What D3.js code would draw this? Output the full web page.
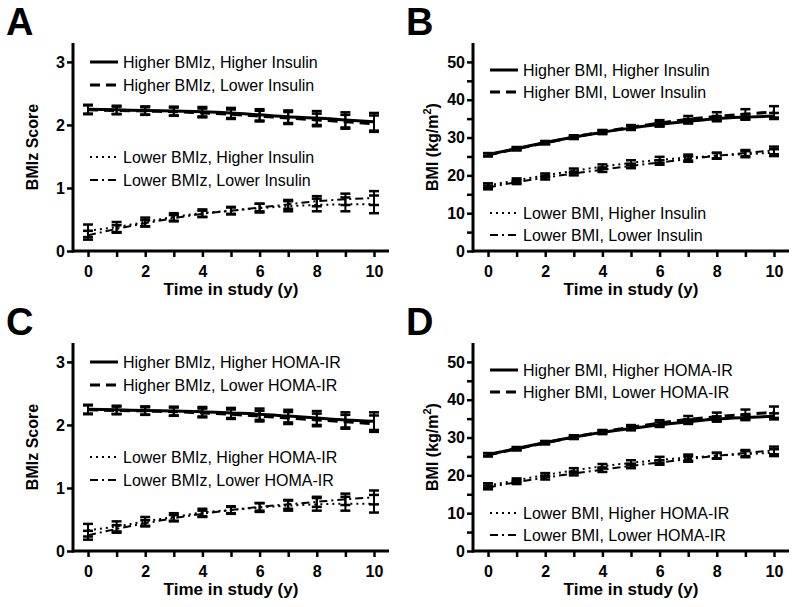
<!DOCTYPE html>
<html><head><meta charset="utf-8">
<script src="https://cdn.jsdelivr.net/npm/d3@7"></script>
<style>body{margin:0;background:#fff}svg{display:block}text{font-family:"Liberation Sans",Arial,sans-serif}</style>
</head><body><svg id="c" width="799" height="607"></svg>
<script>
const years = [0,1,2,3,4,5,6,7,8,9,10];
const xTickLabels = [0,2,4,6,8,10];
const zTicks = [0,1,2,3];
const bmiTicks = [0,10,20,30,40,50];
const bmiMinorTicks = [0,5,10,15,20,25,30,35,40,45,50];

// Panel A
const aHiHi = [2.25,2.24,2.23,2.22,2.21,2.19,2.16,2.13,2.11,2.08,2.05];
const aHiHiErr = [0.07,0.065,0.065,0.07,0.075,0.08,0.09,0.1,0.11,0.12,0.14];
const aHiLo = [2.24,2.23,2.22,2.21,2.19,2.17,2.14,2.11,2.08,2.05,2.02];
const aHiLoErr = [0.07,0.06,0.06,0.065,0.07,0.075,0.085,0.095,0.1,0.11,0.13];
const aLoHi = [0.32,0.38,0.46,0.54,0.60,0.64,0.68,0.71,0.73,0.74,0.74];
const aLoHiErr = [0.1,0.08,0.07,0.06,0.06,0.06,0.07,0.08,0.1,0.11,0.14];
const aLoLo = [0.25,0.35,0.44,0.52,0.59,0.64,0.69,0.74,0.79,0.82,0.84];
const aLoLoErr = [0.07,0.06,0.05,0.05,0.05,0.05,0.06,0.07,0.08,0.09,0.11];
// Panel B
const bHiHi = [25.5,27.1,28.7,30.1,31.4,32.5,33.5,34.3,35.0,35.4,35.7];
const bHiHiErr = [0.4,0.4,0.4,0.4,0.5,0.5,0.6,0.6,0.7,0.7,0.8];
const bHiLo = [25.4,27.0,28.6,30.1,31.5,32.7,33.8,34.8,35.6,36.2,36.8];
const bHiLoErr = [0.4,0.4,0.4,0.5,0.5,0.6,0.8,0.9,1.1,1.3,1.5];
const bLoHi = [17.3,18.7,20.0,21.2,22.3,23.3,24.1,24.7,25.2,25.6,26.0];
const bLoHiErr = [0.6,0.5,0.5,0.6,0.6,0.7,0.8,0.8,0.8,0.8,0.9];
const bLoLo = [16.8,18.2,19.4,20.5,21.5,22.5,23.4,24.3,25.2,25.9,26.6];
const bLoLoErr = [0.5,0.5,0.5,0.5,0.6,0.6,0.6,0.7,0.7,0.8,1.0];
// Panel C
const cHiHi = [2.25,2.24,2.23,2.22,2.21,2.19,2.17,2.14,2.11,2.08,2.06];
const cHiHiErr = [0.07,0.065,0.065,0.07,0.075,0.08,0.09,0.1,0.11,0.12,0.14];
const cHiLo = [2.24,2.23,2.22,2.21,2.19,2.17,2.14,2.11,2.08,2.05,2.02];
const cHiLoErr = [0.07,0.06,0.06,0.065,0.07,0.075,0.085,0.095,0.1,0.11,0.13];
const cLoHi = [0.33,0.39,0.47,0.54,0.61,0.65,0.69,0.72,0.74,0.75,0.75];
const cLoHiErr = [0.1,0.08,0.07,0.06,0.06,0.06,0.07,0.08,0.1,0.11,0.14];
const cLoLo = [0.25,0.35,0.44,0.52,0.59,0.65,0.70,0.74,0.78,0.82,0.85];
const cLoLoErr = [0.07,0.06,0.05,0.05,0.05,0.05,0.06,0.07,0.08,0.09,0.11];
// Panel D
const dHiHi = [25.5,27.1,28.7,30.1,31.4,32.4,33.4,34.2,34.9,35.3,35.6];
const dHiHiErr = [0.4,0.4,0.4,0.4,0.5,0.5,0.6,0.6,0.7,0.7,0.8];
const dHiLo = [25.4,27.0,28.6,30.1,31.5,32.7,33.8,34.8,35.5,36.1,36.7];
const dHiLoErr = [0.4,0.4,0.4,0.5,0.5,0.6,0.8,0.9,1.1,1.3,1.5];
const dLoHi = [17.3,18.7,20.1,21.3,22.4,23.3,24.1,24.7,25.2,25.6,26.0];
const dLoHiErr = [0.6,0.5,0.5,0.6,0.6,0.7,0.8,0.8,0.8,0.8,0.9];
const dLoLo = [16.8,18.2,19.4,20.5,21.5,22.5,23.4,24.3,25.2,25.9,26.6];
const dLoLoErr = [0.5,0.5,0.5,0.5,0.6,0.6,0.6,0.7,0.7,0.8,1.0];

const aLabels = ["Higher BMIz, Higher Insulin","Higher BMIz, Lower Insulin","Lower BMIz, Higher Insulin","Lower BMIz, Lower Insulin"];
const bLabels = ["Higher BMI, Higher Insulin","Higher BMI, Lower Insulin","Lower BMI, Higher Insulin","Lower BMI, Lower Insulin"];
const cLabels = ["Higher BMIz, Higher HOMA-IR","Higher BMIz, Lower HOMA-IR","Lower BMIz, Higher HOMA-IR","Lower BMIz, Lower HOMA-IR"];
const dLabels = ["Higher BMI, Higher HOMA-IR","Higher BMI, Lower HOMA-IR","Lower BMI, Higher HOMA-IR","Lower BMI, Lower HOMA-IR"];

const styles = [
  {dash:null, w:3},
  {dash:"10,6", w:3},
  {dash:"2,4", w:2},
  {dash:"8,4,2,4", w:2}
];

const svg = d3.select("#c");

function panel(ox, oy, letter, kind, series, errs, labels){
  const g = svg.append("g").attr("transform",`translate(${ox},${oy})`);
  const x = d3.scaleLinear().domain([-0.525,10.525]).range([73,389]);
  const y = kind==="z" ? d3.scaleLinear().domain([0,3.3]).range([251,43])
                       : d3.scaleLinear().domain([0,55]).range([251,43]);
  g.append("text").attr("x",6).attr("y",35).attr("font-size",38).attr("font-weight","bold").text(letter);

  const xa = g.append("g").attr("transform","translate(0,251)")
    .call(d3.axisBottom(x).tickValues(years).tickSize(6).tickPadding(9)
      .tickFormat(d => xTickLabels.includes(d) ? d : ""));
  const yTickVals = kind==="z" ? zTicks : bmiMinorTicks;
  const yLabVals = kind==="z" ? zTicks : bmiTicks;
  const ya = g.append("g").attr("transform","translate(73,0)")
    .call(d3.axisLeft(y).tickValues(yTickVals).tickSize(6).tickPadding(2)
      .tickFormat(d => yLabVals.includes(d) ? d : ""));
  [xa,ya].forEach(a=>{
    a.select(".domain").attr("stroke","#000").attr("stroke-width",3);
    a.selectAll(".tick line").attr("stroke","#000").attr("stroke-width",2.5);
    a.selectAll(".tick text").attr("fill","#000").attr("font-size",16).attr("font-weight","bold")
      .attr("font-family","'Liberation Sans',Arial,sans-serif");
  });
  xa.select(".domain").attr("d",`M72,0H389`);
  ya.select(".domain").attr("d",`M0,43V252.5`);

  g.append("text").attr("x",231).attr("y",295).attr("text-anchor","middle")
    .attr("font-size",17).attr("font-weight","bold").text("Time in study (y)");
  const yl = g.append("text").attr("transform", `translate(38,147) rotate(-90)`)
    .attr("text-anchor","middle").attr("font-size",16).attr("font-weight","bold");
  if(kind==="z"){ yl.text("BMIz Score"); }
  else {
    yl.append("tspan").text("BMI (kg/m");
    yl.append("tspan").attr("font-size",11).attr("dy",-7).text("2");
    yl.append("tspan").attr("dy",7).text(")");
  }

  const line = d3.line().x((d,i)=>x(years[i])).y(d=>y(d)).curve(d3.curveMonotoneX);
  series.forEach((s,k)=>{
    const st = styles[k];
    g.append("path").attr("d",line(s)).attr("fill","none").attr("stroke","#000")
      .attr("stroke-width",st.w).attr("stroke-dasharray",st.dash);
    const eb = g.append("g");
    s.forEach((v,i)=>{
      const xx = x(years[i]), lo = y(v-errs[k][i]), hi = y(v+errs[k][i]);
      eb.append("line").attr("x1",xx).attr("x2",xx).attr("y1",lo).attr("y2",hi).attr("stroke","#000").attr("stroke-width",2);
      eb.append("line").attr("x1",xx-5).attr("x2",xx+5).attr("y1",lo).attr("y2",lo).attr("stroke","#000").attr("stroke-width",2.5);
      eb.append("line").attr("x1",xx-5).attr("x2",xx+5).attr("y1",hi).attr("y2",hi).attr("stroke","#000").attr("stroke-width",2.5);
    });
  });

  const rows = kind==="z" ? [62,85,157,180] : [70,92,213,235];
  labels.forEach((lab,k)=>{
    const st = styles[k];
    g.append("line").attr("x1",90).attr("x2",118).attr("y1",rows[k]).attr("y2",rows[k])
      .attr("stroke","#000").attr("stroke-width",st.w).attr("stroke-dasharray",st.dash);
    g.append("text").attr("x",123).attr("y",rows[k]+5.5).attr("font-size",16).text(lab);
  });
}

panel(0,0,"A","z",[aHiHi,aHiLo,aLoHi,aLoLo],[aHiHiErr,aHiLoErr,aLoHiErr,aLoLoErr],aLabels);
panel(400,0,"B","b",[bHiHi,bHiLo,bLoHi,bLoLo],[bHiHiErr,bHiLoErr,bLoHiErr,bLoLoErr],bLabels);
panel(0,300,"C","z",[cHiHi,cHiLo,cLoHi,cLoLo],[cHiHiErr,cHiLoErr,cLoHiErr,cLoLoErr],cLabels);
panel(400,300,"D","b",[dHiHi,dHiLo,dLoHi,dLoLo],[dHiHiErr,dHiLoErr,dLoHiErr,dLoLoErr],dLabels);
</script></body></html>
